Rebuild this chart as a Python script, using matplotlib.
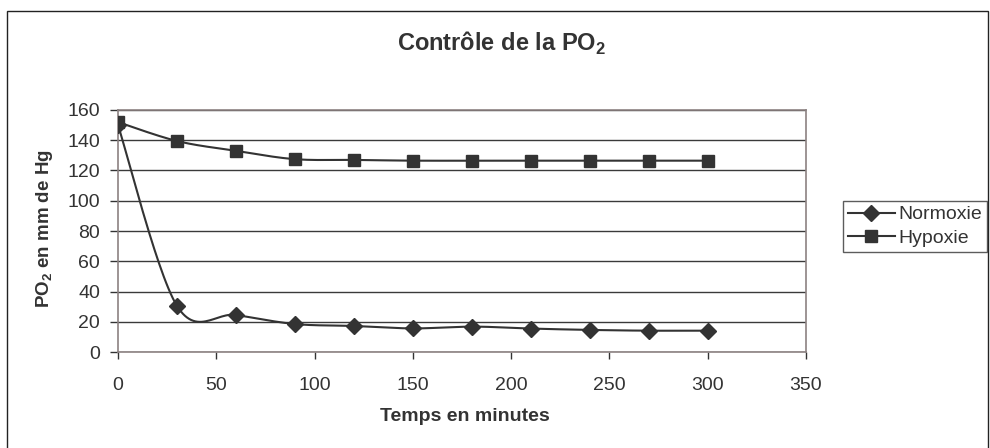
import numpy as np
import matplotlib
matplotlib.use("Agg")
import matplotlib.pyplot as plt
from matplotlib.patches import Rectangle

plt.rcParams['font.family'] = ['Liberation Sans', 'DejaVu Sans']

time_min = [0, 30, 60, 90, 120, 150, 180, 210, 240, 270, 300]
normoxie = [150, 30.5, 24.5, 18.5, 17.2, 15.6, 16.8, 15.5, 14.6, 14.1, 14.1]
hypoxie = [152, 139.5, 133, 127.5, 127, 126.5, 126.5, 126.5, 126.5, 126.5, 126.5]
x_ticks = [0, 50, 100, 150, 200, 250, 300, 350]
y_ticks = [0, 20, 40, 60, 80, 100, 120, 140, 160]

TXT = '#333333'
LINE = '#333333'


def smooth(xs, ys, n=30):
    """Excel-style smoothed line (Catmull-Rom via cubic Bezier)."""
    p = np.column_stack([xs, ys]).astype(float)
    pts = [p[0]]
    N = len(p)
    t = np.linspace(0, 1, n)[1:, None]
    for i in range(N - 1):
        p0 = p[i - 1] if i > 0 else p[i]
        p1 = p[i]
        p2 = p[i + 1]
        p3 = p[i + 2] if i + 2 < N else p[i + 1]
        c1 = p1 + (p2 - p0) / 6.0
        c2 = p2 - (p3 - p1) / 6.0
        seg = ((1 - t) ** 3) * p1 + 3 * ((1 - t) ** 2) * t * c1 + 3 * (1 - t) * t ** 2 * c2 + t ** 3 * p2
        pts.extend(seg)
    pts = np.array(pts)
    return pts[:, 0], pts[:, 1]


fig = plt.figure(figsize=(9.9, 4.48), dpi=100)
fig.patch.set_facecolor('white')

# outer chart border
fig.add_artist(Rectangle((7 / 990, -0.01), (988 - 7) / 990, (448 - 11) / 448 + 0.01,
                         transform=fig.transFigure, fill=False, edgecolor='#222222', lw=1.0))

ax = fig.add_axes([118 / 990, (448 - 352) / 448, (806 - 118) / 990, (352 - 110) / 448])
ax.set_xlim(0, 350)
ax.set_ylim(0, 160)
ax.set_xticks(x_ticks)
ax.set_yticks(y_ticks)
ax.tick_params(direction='out', width=1, color='#333333', labelsize=14, labelcolor=TXT)
ax.tick_params(axis='x', length=5, pad=13)
ax.tick_params(axis='y', length=6, pad=7)
for s in ax.spines.values():
    s.set_color('#8c8282')
    s.set_linewidth(1.2)
ax.yaxis.grid(True, color='#3a3a3a', lw=1.0)
ax.set_axisbelow(True)

xs, ys = smooth(time_min, normoxie)
ax.plot(xs, ys, color=LINE, lw=1.5, zorder=3)
ax.plot(time_min, normoxie, linestyle='none', marker='D', markersize=8.5, color=LINE, zorder=4)
xs, ys = smooth(time_min, hypoxie)
ax.plot(xs, ys, color=LINE, lw=1.5, zorder=3)
ax.plot(time_min, hypoxie, linestyle='none', marker='s', markersize=9, color=LINE, zorder=4)

# legend handles
h1, = ax.plot([], [], color=LINE, lw=1.5, marker='D', markersize=8.5)
h2, = ax.plot([], [], color=LINE, lw=1.5, marker='s', markersize=9)
leg = fig.legend([h1, h2], ['Normoxie', 'Hypoxie'], loc='upper left',
                 bbox_to_anchor=(843 / 990, 1 - 201 / 448), fontsize=14, frameon=True,
                 fancybox=False, borderpad=0.25, handlelength=2.4, handletextpad=0.2,
                 labelspacing=0.3, borderaxespad=0)
leg.get_frame().set_edgecolor('#333333')
leg.get_frame().set_linewidth(1.0)
for t in leg.get_texts():
    t.set_color(TXT)

fig.text(502 / 990, 1 - 43 / 448, r'Contrôle de la PO$_\mathregular{2}$', ha='center', va='center',
         fontsize=17, fontweight='bold', color=TXT)
fig.text(465 / 990, 1 - 416 / 448, 'Temps en minutes', ha='center', va='center',
         fontsize=14, fontweight='bold', color=TXT)
fig.text(45 / 990, 1 - 229 / 448, r'PO$_\mathregular{2}$ en mm de Hg', ha='center', va='center',
         rotation=90, fontsize=13.5, fontweight='bold', color=TXT)

fig.savefig('out.png', dpi=100)
